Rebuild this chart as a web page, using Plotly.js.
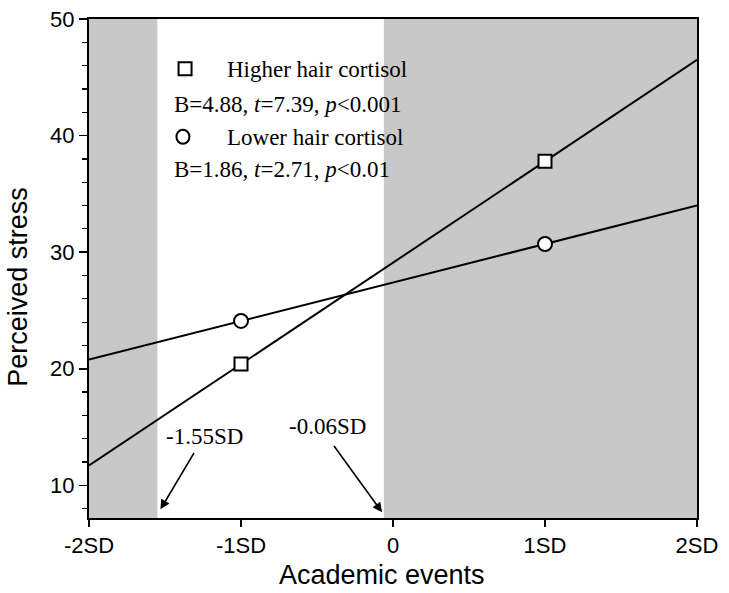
<!DOCTYPE html>
<html>
<head>
<meta charset="utf-8">
<script src="https://cdn.plot.ly/plotly-3.0.1.min.js"></script>
<style>html,body{margin:0;padding:0;background:#fff;}#chart{width:729px;height:593px;}</style>
</head>
<body>
<div id="chart"></div>
<script>
// Data
var xTickVals = [-2, -1, 0, 1, 2];
var xTickText = ['-2SD', '-1SD', '0', '1SD', '2SD'];
var lineX = [-2, 2];
var highLineY = [11.7, 46.5];
var lowLineY = [20.8, 34.0];
var pointX = [-1, 1];
var highPointY = [20.4, 37.8];
var lowPointY = [24.1, 30.7];
// regions of significance (shaded)
var regionStarts = [-2, -0.06];
var regionEnds = [-1.55, 2];
var boundaryLabels = ['-1.55SD', '-0.06SD'];
var boundaryValues = [-1.55, -0.06];
var seriesNames = ['Higher hair cortisol', 'Lower hair cortisol'];
var seriesStats = ['B=4.88, <i>t</i>=7.39, <i>p</i>&lt;0.001', 'B=1.86, <i>t</i>=2.71, <i>p</i>&lt;0.01'];
var xTitle = 'Academic events';
var yTitle = 'Perceived stress';

var serif = 'Liberation Serif, Times New Roman, serif';
var sans = 'Liberation Sans, Arial, sans-serif';

var traces = [
  {x: lineX, y: highLineY, mode: 'lines', line: {color: '#000', width: 2}, showlegend: false, hoverinfo: 'skip'},
  {x: lineX, y: lowLineY, mode: 'lines', line: {color: '#000', width: 2}, showlegend: false, hoverinfo: 'skip'},
  {x: pointX, y: highPointY, mode: 'markers', marker: {symbol: 'square', size: 13, color: '#fff', line: {color: '#000', width: 2}}, showlegend: false, cliponaxis: false},
  {x: pointX, y: lowPointY, mode: 'markers', marker: {symbol: 'circle', size: 14, color: '#fff', line: {color: '#000', width: 2}}, showlegend: false, cliponaxis: false}
];

var shapes = [];
for (var i = 0; i < regionStarts.length; i++) {
  shapes.push({type: 'rect', xref: 'x', yref: 'paper', x0: regionStarts[i], x1: regionEnds[i], y0: 0, y1: 1,
    fillcolor: '#c8c8c8', line: {width: 0}, layer: 'below'});
}
// legend keys
shapes.push({type: 'rect', xref: 'x', yref: 'y', xsizemode: 'pixel', ysizemode: 'pixel',
  xanchor: -1.368, yanchor: 45.73, x0: -6.5, x1: 6.5, y0: -6.5, y1: 6.5,
  line: {color: '#000', width: 2}, fillcolor: '#fff'});
shapes.push({type: 'circle', xref: 'x', yref: 'y', xsizemode: 'pixel', ysizemode: 'pixel',
  xanchor: -1.382, yanchor: 39.9, x0: -6.5, x1: 6.5, y0: -7, y1: 7,
  line: {color: '#000', width: 2}, fillcolor: '#fff'});

var annFont = {family: serif, size: 23, color: '#000'};
var titleFont = {family: sans, size: 27, color: '#000'};
var annotations = [
  {x: -1.105, y: 45.65, xref: 'x', yref: 'y', xanchor: 'left', yanchor: 'middle', text: seriesNames[0], showarrow: false, font: annFont},
  {x: -1.454, y: 42.65, xref: 'x', yref: 'y', xanchor: 'left', yanchor: 'middle', text: seriesStats[0], showarrow: false, font: annFont},
  {x: -1.105, y: 39.82, xref: 'x', yref: 'y', xanchor: 'left', yanchor: 'middle', text: seriesNames[1], showarrow: false, font: annFont},
  {x: -1.454, y: 37.08, xref: 'x', yref: 'y', xanchor: 'left', yanchor: 'middle', text: seriesStats[1], showarrow: false, font: annFont},
  // boundary labels
  {x: -1.243, y: 14.17, xref: 'x', yref: 'y', text: boundaryLabels[0], showarrow: false, font: annFont},
  {x: -0.434, y: 15.03, xref: 'x', yref: 'y', text: boundaryLabels[1], showarrow: false, font: annFont},
  // arrows
  {x: boundaryValues[0] + 0.02, y: 7.94, xref: 'x', yref: 'y', axref: 'x', ayref: 'y', ax: -1.303, ay: 12.91,
    text: '', showarrow: true, arrowhead: 2, arrowsize: 1.2, arrowwidth: 1.6, arrowcolor: '#000'},
  {x: boundaryValues[1] - 0.012, y: 7.69, xref: 'x', yref: 'y', axref: 'x', ayref: 'y', ax: -0.395, ay: 13.51,
    text: '', showarrow: true, arrowhead: 2, arrowsize: 1.2, arrowwidth: 1.6, arrowcolor: '#000'},
  // axis titles
  {x: 0.482, y: -0.114, xref: 'paper', yref: 'paper', xanchor: 'center', yanchor: 'middle', text: xTitle, showarrow: false, font: titleFont},
  {x: -0.117, y: 0.463, xref: 'paper', yref: 'paper', xanchor: 'center', yanchor: 'middle', text: yTitle, textangle: -90, showarrow: false, font: titleFont}
];

var layout = {
  width: 729, height: 593,
  margin: {l: 89, r: 32, t: 19, b: 75},
  paper_bgcolor: '#fff', plot_bgcolor: '#fff',
  showlegend: false,
  xaxis: {
    range: [-2, 2], tickvals: xTickVals, ticktext: xTickText,
    ticks: 'outside', ticklen: 7, tickwidth: 1.5, tickcolor: '#000',
    showline: true, linecolor: '#000', linewidth: 2, mirror: true,
    showgrid: false, zeroline: false,
    tickfont: {family: sans, size: 22, color: '#000'}
  },
  yaxis: {
    range: [7.2, 50], tick0: 10, dtick: 10,
    ticks: 'outside', ticklen: 8, tickwidth: 1.5, tickcolor: '#000',
    minor: {tick0: 0, dtick: 2, ticks: 'outside', ticklen: 5, tickwidth: 1.2, tickcolor: '#000', showgrid: false},
    showline: true, linecolor: '#000', linewidth: 2, mirror: true,
    showgrid: false, zeroline: false,
    tickfont: {family: sans, size: 22, color: '#000'}
  },
  shapes: shapes,
  annotations: annotations
};

Plotly.newPlot('chart', traces, layout, {staticPlot: true, displayModeBar: false});
</script>
</body>
</html>
